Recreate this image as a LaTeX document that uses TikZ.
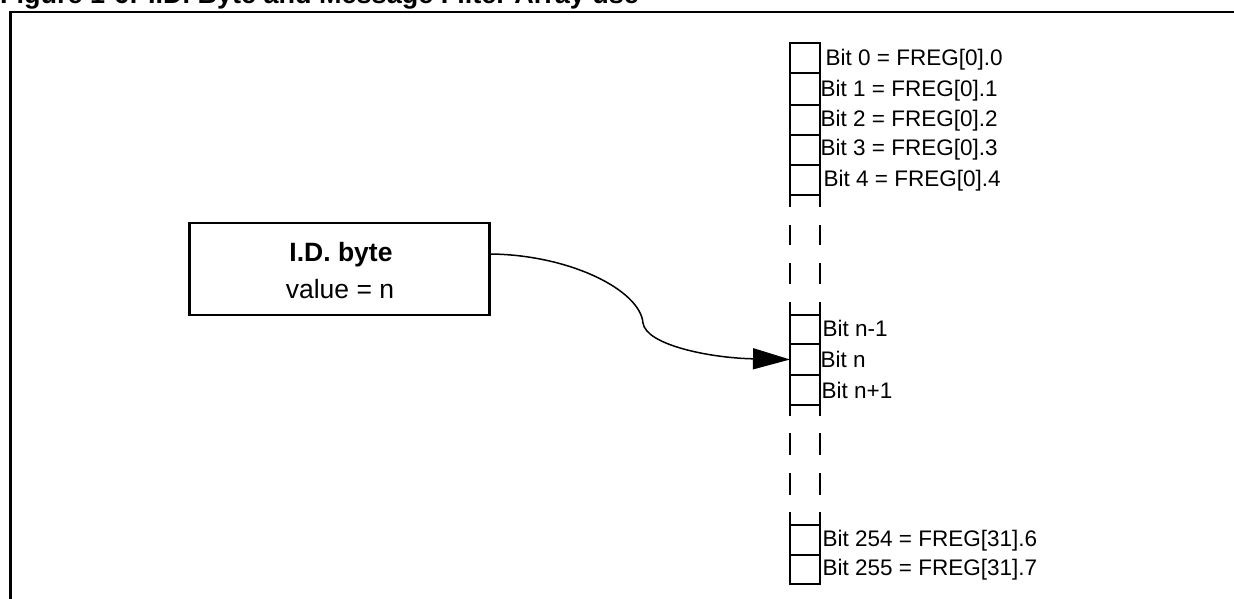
\documentclass[tikz,border=0pt]{standalone}
\usepackage{fontspec}
\setmainfont{Liberation Sans}
\usetikzlibrary{arrows.meta}
\begin{document}
\begin{tikzpicture}[x=1pt,y=-1pt,
  frame/.style={line width=2.5pt},
  cell/.style={draw, line width=2.5pt, minimum width=30pt, inner sep=0pt, outer sep=0pt},
  colline/.style={line width=2.5pt},
  bitlabel/.style={anchor=base west, inner sep=0pt, font=\fontsize{22.5}{26}\selectfont},
  boxtext/.style={anchor=base, inner sep=0pt, font=\fontsize{26.5}{30}\selectfont},
  connector/.style={line width=1.5pt, -{Triangle[length=37pt,width=21pt]}},
]
\useasboundingbox (0,0) rectangle (1234,599);
\clip (0,0) rectangle (1234,599);
\fill[white] (0,0) rectangle (1234,599);
% title (cut at top, as in the reference)
\node[anchor=base west, inner sep=0pt, font=\bfseries\fontsize{27}{30}\selectfont] (title) at (0,4) {Figure 1-6: I.D. Byte and Message Filter Array use};
% frame
\draw[frame] (10.5,620) -- (10.5,12) -- (1250,12);
% group A
\node[cell, minimum height=30pt] (b0) at (805,58) {};
\node[cell, minimum height=32pt] (b1) at (805,89) {};
\node[cell, minimum height=30pt] (b2) at (805,120) {};
\node[cell, minimum height=30pt] (b3) at (805,150) {};
\node[cell, minimum height=30pt] (b4) at (805,180) {};
\draw[colline] (b4.south west) -- ++(0,12) (b4.south east) -- ++(0,12);
\draw[colline] (790,225) -- (790,245) (820,225) -- (820,245)
               (790,263) -- (790,284) (820,263) -- (820,284);
% group B
\node[cell, minimum height=29pt] (bm) at (805,329.5) {};
\node[cell, minimum height=31pt] (bn) at (805,359.5) {};
\node[cell, minimum height=30pt] (bp) at (805,390) {};
\draw[colline] (bm.north west) -- ++(0,-13) (bm.north east) -- ++(0,-13);
\draw[colline] (bp.south west) -- ++(0,11) (bp.south east) -- ++(0,11);
\draw[colline] (790,433) -- (790,455) (820,433) -- (820,455)
               (790,473) -- (790,495) (820,473) -- (820,495);
% group C
\node[cell, minimum height=30pt] (b254) at (805,540) {};
\node[cell, minimum height=29pt] (b255) at (805,569.5) {};
\draw[colline] (b254.north west) -- ++(0,-13) (b254.north east) -- ++(0,-13);
% labels
\node[bitlabel] (l0) at (825.5,66) {Bit 0 = FREG[0].0};
\node[bitlabel] (l1) at (820.5,97) {Bit 1 = FREG[0].1};
\node[bitlabel] (l2) at (820.5,127) {Bit 2 = FREG[0].2};
\node[bitlabel] (l3) at (820.5,156) {Bit 3 = FREG[0].3};
\node[bitlabel] (l4) at (823.5,186) {Bit 4 = FREG[0].4};
\node[bitlabel] (lm) at (822.5,336) {Bit n-1};
\node[bitlabel] (ln) at (820.5,367) {Bit n};
\node[bitlabel] (lp) at (821.5,398) {Bit n+1};
\node[bitlabel] (l254) at (822.5,546.5) {Bit 254 = FREG[31].6};
\node[bitlabel] (l255) at (822.5,575.5) {Bit 255 = FREG[31].7};
% I.D. box
\node[draw, line width=2.5pt, minimum width=300pt, minimum height=92pt, inner sep=0pt] (idbox) at (339.5,269) {};
\node[boxtext, font=\bfseries\fontsize{26.5}{30}\selectfont] (idt) at (341,261.5) {I.D. byte};
\node[boxtext] (idv) at (340,298) {value = n};
% connector
\draw[connector] ([yshift=15pt]idbox.east) .. controls (570,255) and (640,290) .. (643,323)
   .. controls (646,345) and (710,358) .. (bn.west);
\end{tikzpicture}
\end{document}
